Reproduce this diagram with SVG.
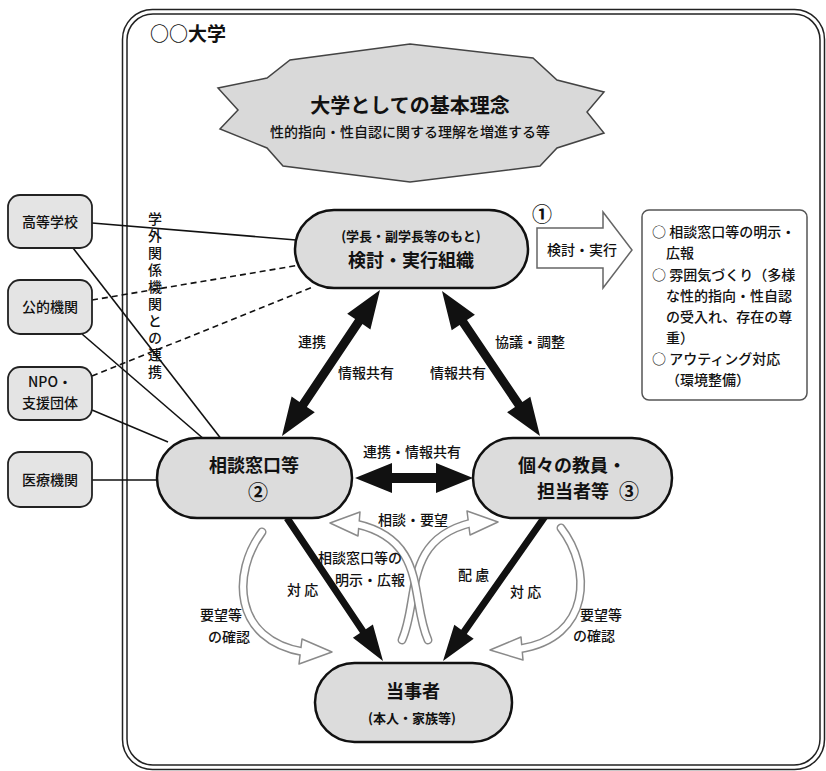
<svg xmlns="http://www.w3.org/2000/svg" width="826" height="771" viewBox="0 0 826 771">
<style>
text{font-family:"Noto Sans CJK JP","Noto Sans CJK SC",sans-serif;fill:#111}
.b{font-weight:bold}
.m{font-size:14px;font-weight:500}
.node{fill:#dcdcdc;stroke:#111;stroke-width:2.5}
.ext{fill:#e4e4e4;stroke:#222;stroke-width:1.8}
.ln{stroke:#111;stroke-width:1.6;fill:none}
.dash{stroke-dasharray:6 4}
.blk{fill:#111;stroke:none}
.bo{fill:none;stroke:#8a8a8a;stroke-width:9;stroke-linecap:round}
.bi{fill:none;stroke:#fff;stroke-width:6;stroke-linecap:round}
.hh{fill:#fff;stroke:#8a8a8a;stroke-width:1.5;stroke-linejoin:round}
.c{text-anchor:middle}
</style>
<rect x="0" y="0" width="826" height="771" fill="#fff"/>
<g id="frame">
<rect x="122.5" y="9.5" width="702" height="760" rx="30" fill="none" stroke="#222" stroke-width="1.5"/>
<rect x="127" y="14" width="693" height="751" rx="26" fill="none" stroke="#222" stroke-width="1.5"/>
<text x="150" y="41" class="b" font-size="19">○○大学</text>
</g>
<g id="principle">
<polygon points="410,44 533,58 557,80 604,92 587,112 604,133 557,148 540,166 410,182 283,166 267,148 220,129 238,110 218,88 267,78 290,60" fill="#d9d9d9" stroke="#444" stroke-width="1.5"/>
<text x="410" y="113" class="b c" font-size="20">大学としての基本理念</text>
<text x="410" y="137" class="c" font-size="14" font-weight="500">性的指向・性自認に関する理解を増進する等</text>
</g>
<g id="connectors">
<line class="ln" x1="92" y1="223" x2="296" y2="240"/>
<line class="ln" x1="73" y1="248" x2="222" y2="440"/>
<line class="ln dash" x1="92" y1="300" x2="300" y2="265"/>
<line class="ln" x1="82" y1="334" x2="205" y2="440"/>
<line class="ln dash" x1="92" y1="376" x2="313" y2="287"/>
<line class="ln" x1="92" y1="410" x2="168" y2="442"/>
<line class="ln" x1="92" y1="480" x2="158" y2="480"/>
<polygon class="blk" points="380,290 370.4,329.4 362.5,324.1 306.9,406.9 314.8,412.2 282,436 291.6,396.6 299.5,401.9 355.1,319.1 347.2,313.8"/>
<polygon class="blk" points="442,291 474.9,314.7 467,320 522.4,402 530.3,396.7 540,436 507.1,412.3 515,407 459.6,325 451.7,330.3"/>
<polygon class="blk" points="355,478 392,463 392,473 436,473 436,463 473,478 436,493 436,483 392,483 392,493"/>
<polygon class="blk" points="289.9,516.1 365.8,629.2 372.9,624.4 383,661 352.9,637.8 360,633.1 284.1,520"/>
<polygon class="blk" points="548.8,517.1 466.8,633.9 473.7,638.8 443,661 454.3,624.8 461.2,629.8 543.2,513"/>
<path class="bo" d="M262 532 C232 572 232 640 304 652"/>
<polygon class="hh" points="302,639 332,652 299,664"/>
<path class="bi" d="M262 532 C232 572 232 640 304 652"/>
<path class="bo" d="M561 528 C592 568 592 638 519 649"/>
<polygon class="hh" points="521,637 490,650 523,660"/>
<path class="bi" d="M561 528 C592 568 592 638 519 649"/>
<path class="bo" d="M402 640 C420 600 402 540 471 523"/>
<polygon class="hh" points="467,511 498,522 470,535"/>
<path class="bi" d="M402 640 C420 600 402 540 471 523"/>
<path class="bo" d="M428 640 C410 600 428 540 356 524"/>
<polygon class="hh" points="360,512 330,523 358,536"/>
<path class="bi" d="M428 640 C410 600 428 540 356 524"/>
<polygon points="537,228 603,228 603,212 632,250 603,288 603,268 537,268" fill="#fff" stroke="#666" stroke-width="1.5"/>
<text x="547" y="255" class="m">検討・実行</text>
<text x="155" y="212" class="m" style="writing-mode:vertical-rl" letter-spacing="3">学外関係機関との連携</text>
<text x="298" y="347" class="m">連携</text>
<text x="338" y="378" class="m">情報共有</text>
<text x="430" y="378" class="m">情報共有</text>
<text x="495" y="347" class="m">協議・調整</text>
<text x="363" y="457" class="m">連携・情報共有</text>
<text x="378" y="525" class="m">相談・要望</text>
<text x="318" y="563" class="m">相談窓口等の</text>
<text x="335" y="585" class="m">明示・広報</text>
<text x="287" y="595" class="m">対 応</text>
<text x="458" y="580" class="m">配 慮</text>
<text x="510" y="597" class="m">対 応</text>
<text x="200" y="620" class="m">要望等</text>
<text x="208" y="642" class="m">の確認</text>
<text x="580" y="620" class="m">要望等</text>
<text x="573" y="641" class="m">の確認</text>
</g>
<g id="n-koutou"><rect class="ext" x="8" y="195" width="84" height="53" rx="12"/><text x="50" y="227" class="m c">高等学校</text></g>
<g id="n-kouteki"><rect class="ext" x="8" y="280" width="84" height="54" rx="12"/><text x="50" y="312" class="m c">公的機関</text></g>
<g id="n-npo"><rect class="ext" x="8" y="367" width="84" height="53" rx="12"/><text x="50" y="387" class="m c">NPO・</text><text x="50" y="408" class="m c">支援団体</text></g>
<g id="n-iryou"><rect class="ext" x="8" y="452" width="84" height="55" rx="12"/><text x="50" y="485" class="m c">医療機関</text></g>
<g id="n-kentou"><rect class="node" x="295" y="210" width="233" height="78" rx="39"/><text x="411" y="241" class="b c" font-size="13">(学長・副学長等のもと)</text><text x="411" y="267" class="b c" font-size="18">検討・実行組織</text></g>
<g id="n-num1"><text x="542" y="222" class="b c" font-size="20">①</text></g>
<g id="n-soudan"><rect class="node" x="157" y="438" width="195" height="80" rx="40"/><text x="254" y="472" class="b c" font-size="18">相談窓口等</text><text x="258" y="500" class="b c" font-size="20">②</text></g>
<g id="n-kyouin"><rect class="node" x="473" y="438" width="199" height="80" rx="40"/><text x="518" y="472" class="b" font-size="18">個々の教員・</text><text x="537" y="498" class="b" font-size="18">担当者等</text><text x="629" y="499" class="b c" font-size="20">③</text></g>
<g id="n-touji"><rect class="node" x="315" y="663" width="197" height="79" rx="39.5"/><text x="413" y="698" class="b c" font-size="18">当事者</text><text x="412" y="723" class="b c" font-size="13">(本人・家族等)</text></g>
<g id="n-measures"><rect x="642" y="210" width="165" height="190" rx="7" fill="#fff" stroke="#555" stroke-width="1.5"/>
<text class="m" x="652" y="237">○ 相談窓口等の明示・</text>
<text class="m" x="666" y="258">広報</text>
<text class="m" x="652" y="280">○ 雰囲気づくり（多様</text>
<text class="m" x="666" y="301">な性的指向・性自認</text>
<text class="m" x="666" y="322">の受入れ、存在の尊</text>
<text class="m" x="666" y="343">重）</text>
<text class="m" x="652" y="364">○ アウティング対応</text>
<text class="m" x="666" y="385">（環境整備）</text>
</g>
</svg>
